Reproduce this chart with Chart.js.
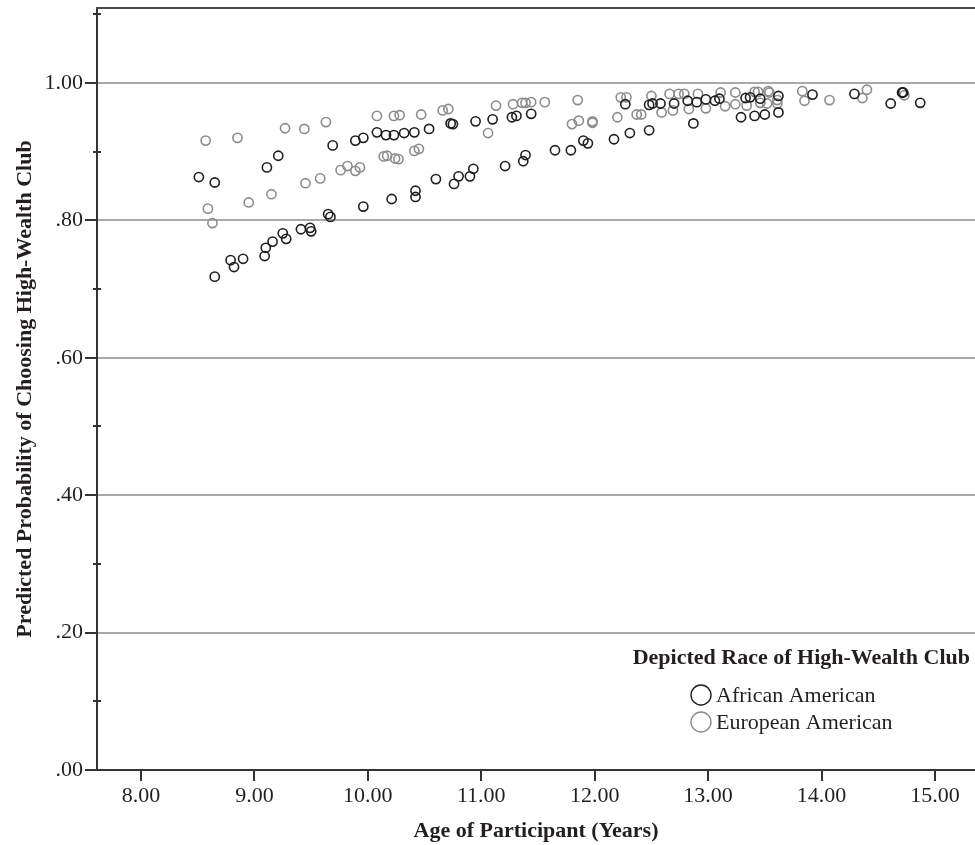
<!DOCTYPE html>
<html>
<head>
<meta charset="utf-8">
<script src="https://cdn.jsdelivr.net/npm/chart.js@4.4.1/dist/chart.umd.min.js"></script>
<style>
  html, body { margin: 0; padding: 0; background: #ffffff; }
  #wrap { width: 975px; height: 845px; }
</style>
</head>
<body>
<div id="wrap"><canvas id="c" width="975" height="845"></canvas></div>
<script>
// ---- Data ----
const seriesNames = ["African American", "European American"];

const aaAge = [8.51, 8.65, 8.65, 8.79, 8.82, 8.90, 9.09, 9.10, 9.16, 9.25, 9.28, 9.41, 9.49, 9.50, 9.65, 9.67,
  9.96, 10.21, 9.11, 9.21, 9.69, 9.89, 9.96, 10.08, 10.16, 10.23, 10.32, 10.41, 10.54, 10.73, 10.75, 10.95,
  11.10, 11.27, 11.31, 11.44, 10.42, 10.42, 10.60, 10.76, 10.80, 10.90, 10.93, 11.21, 11.37, 11.39, 11.65,
  11.79, 11.90, 11.94, 12.17, 12.31, 12.48, 12.27, 12.48, 12.51, 12.58, 12.70, 12.82, 12.90, 12.98, 13.06,
  13.10, 13.33, 13.37, 13.46, 13.62, 13.92, 14.29, 14.71, 14.72, 14.61, 14.87, 12.87, 13.29, 13.41, 13.50, 13.62];
const aaProb = [.863, .855, .718, .742, .732, .744, .748, .760, .769, .781, .773, .787, .789, .784, .809, .805,
  .820, .831, .877, .894, .909, .916, .920, .928, .924, .924, .927, .928, .933, .941, .940, .944,
  .947, .950, .952, .955, .843, .834, .860, .853, .864, .864, .875, .879, .886, .895, .902,
  .902, .916, .912, .918, .927, .931, .969, .968, .970, .970, .970, .974, .972, .976, .974,
  .977, .978, .979, .977, .981, .983, .984, .986, .986, .970, .971, .941, .950, .952, .954, .957];

const eaAge = [8.57, 8.85, 9.27, 9.44, 9.63, 10.08, 10.23, 10.28, 10.14, 10.17, 10.24, 10.27, 9.76, 9.82, 9.89, 9.93,
  9.58, 9.45, 9.15, 8.95, 8.59, 8.63, 10.47, 10.66, 10.71, 11.13, 11.28, 11.36, 11.39, 11.44, 11.56, 11.85,
  12.23, 12.28, 11.80, 11.86, 11.98, 11.98, 12.20, 11.06, 10.41, 10.45, 12.50, 12.66, 12.74, 12.79, 12.91,
  13.11, 13.24, 13.41, 13.44, 13.53, 13.54, 13.83, 12.37, 12.41, 12.59, 12.69, 12.83, 12.98, 13.15, 13.24,
  13.34, 13.46, 13.52, 13.61, 13.61, 13.85, 14.07, 14.40, 14.36, 14.73];
const eaProb = [.916, .920, .934, .933, .943, .952, .952, .953, .893, .894, .890, .889, .873, .879, .872, .877,
  .861, .854, .838, .826, .817, .796, .954, .960, .962, .967, .969, .971, .971, .972, .972, .975,
  .979, .979, .940, .945, .944, .942, .950, .927, .901, .904, .981, .984, .984, .984, .984,
  .986, .986, .987, .987, .988, .986, .988, .954, .954, .957, .960, .962, .963, .966, .969,
  .967, .971, .970, .975, .970, .974, .975, .990, .978, .982];

const xTicks = [8, 9, 10, 11, 12, 13, 14, 15];
const yTicks = [0, 0.2, 0.4, 0.6, 0.8, 1.0];
const yMinorTicks = [0.1, 0.3, 0.5, 0.7, 0.9, 1.1];

const xTitle = "Age of Participant (Years)";
const yTitle = "Predicted Probability of Choosing High-Wealth Club";
const legendTitle = "Depicted Race of High-Wealth Club";

// ---- Styling ----
const SERIF = '"Liberation Serif", "Times New Roman", Times, serif';
const TEXT = '#231f20';
const AXIS = '#333333';
const GRID = '#a9a9a9';
const colors = ['#1f1f1f', '#8c8c8c'];

const toPts = (xs, ys) => xs.map((x, i) => ({ x: x, y: ys[i] }));
const fmtY = v => {
  const s = v.toFixed(2);
  return v < 1 ? s.replace(/^0/, '') : s;
};

const decor = {
  id: 'decor',
  afterDraw(chart) {
    const ctx = chart.ctx;
    const a = chart.chartArea;
    const xs = chart.scales.x, ys = chart.scales.y;
    ctx.save();
    // top frame line
    ctx.strokeStyle = '#4a4a4a';
    ctx.lineWidth = 2;
    ctx.beginPath();
    ctx.moveTo(a.left - 1, a.top);
    ctx.lineTo(a.right, a.top);
    ctx.stroke();
    // axis tick marks
    ctx.strokeStyle = AXIS;
    ctx.lineWidth = 2;
    ctx.beginPath();
    xTicks.forEach(v => {
      const px = Math.round(xs.getPixelForValue(v));
      ctx.moveTo(px, a.bottom);
      ctx.lineTo(px, a.bottom + 11);
    });
    yTicks.forEach(v => {
      const py = Math.round(ys.getPixelForValue(v));
      ctx.moveTo(a.left - 12, py);
      ctx.lineTo(a.left, py);
    });
    yMinorTicks.forEach(v => {
      const py = Math.round(ys.getPixelForValue(v));
      ctx.moveTo(a.left - 4, py);
      ctx.lineTo(a.left + 4, py);
    });
    ctx.stroke();

    // legend (inside plot, bottom right)
    ctx.fillStyle = TEXT;
    ctx.textBaseline = 'middle';
    ctx.textAlign = 'right';
    ctx.font = 'bold 22px ' + SERIF;
    ctx.fillText(legendTitle, 970, 658);
    ctx.textAlign = 'left';
    ctx.font = '22px ' + SERIF;
    seriesNames.forEach((name, i) => {
      const cy = 695 + i * 27;
      ctx.beginPath();
      ctx.strokeStyle = colors[i];
      ctx.lineWidth = 1.4;
      ctx.arc(701, cy, 10, 0, Math.PI * 2);
      ctx.stroke();
      ctx.fillStyle = TEXT;
      ctx.fillText(name, 716, cy + 1);
    });
    ctx.restore();
  }
};

new Chart(document.getElementById('c'), {
  type: 'scatter',
  data: {
    datasets: [
      {
        label: seriesNames[0],
        data: toPts(aaAge, aaProb),
        borderColor: colors[0],
        backgroundColor: 'rgba(0,0,0,0)',
        pointRadius: 4.6,
        pointBorderWidth: 1.6,
        pointHoverRadius: 4.6,
        order: 0
      },
      {
        label: seriesNames[1],
        data: toPts(eaAge, eaProb),
        borderColor: colors[1],
        backgroundColor: 'rgba(0,0,0,0)',
        pointRadius: 4.6,
        pointBorderWidth: 1.6,
        pointHoverRadius: 4.6,
        order: 1
      }
    ]
  },
  options: {
    responsive: false,
    animation: false,
    devicePixelRatio: 1,
    layout: { autoPadding: false, padding: { top: 8, right: 0, bottom: 0, left: 0 } },
    plugins: {
      legend: { display: false },
      tooltip: { enabled: false }
    },
    scales: {
      x: {
        type: 'linear',
        min: 7.612,
        max: 15.353,
        afterBuildTicks: s => { s.ticks = xTicks.map(v => ({ value: v })); },
        afterFit: s => { s.height = 75; s.paddingLeft = 0; s.paddingRight = 0; },
        ticks: {
          autoSkip: false,
          maxRotation: 0,
          padding: 13,
          color: TEXT,
          font: { family: SERIF, size: 22 },
          callback: v => Number(v).toFixed(2)
        },
        grid: { drawOnChartArea: false, drawTicks: false, color: 'rgba(0,0,0,0)' },
        border: { display: true, color: AXIS, width: 2 },
        title: {
          display: true,
          text: xTitle,
          color: TEXT,
          font: { family: SERIF, size: 22, weight: 'bold' },
          padding: { top: 0, bottom: 0 }
        }
      },
      y: {
        type: 'linear',
        min: 0,
        max: 1.109,
        afterBuildTicks: s => { s.ticks = yTicks.map(v => ({ value: v })); },
        afterFit: s => { s.width = 97; s.paddingTop = 0; s.paddingBottom = 0; },
        ticks: {
          autoSkip: false,
          padding: 14,
          color: TEXT,
          font: { family: SERIF, size: 22 },
          callback: v => fmtY(Number(v))
        },
        grid: {
          drawTicks: false,
          lineWidth: 2,
          color: c => (c.tick && c.tick.value > 0.001) ? GRID : 'rgba(0,0,0,0)'
        },
        border: { display: true, color: AXIS, width: 2 },
        title: {
          display: true,
          text: yTitle,
          color: TEXT,
          font: { family: SERIF, size: 22, weight: 'bold' },
          padding: { top: 12, bottom: 0 }
        }
      }
    }
  },
  plugins: [decor]
});
</script>
</body>
</html>
